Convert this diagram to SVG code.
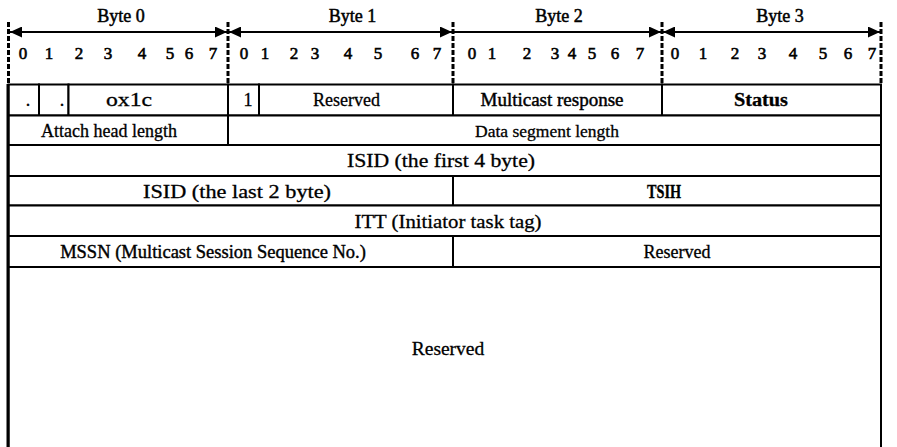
<svg xmlns="http://www.w3.org/2000/svg" width="897" height="447" viewBox="0 0 897 447">
<style>
text{font-family:"Liberation Serif","Times New Roman",serif;fill:#000;stroke:#000;stroke-width:0.3;text-anchor:middle}
.b{font-size:18px;stroke-width:0.5}
.d{font-size:17px;stroke-width:0.6}
.r1{font-size:18px}
.t{font-size:18px}
.w{font-size:19px}
.c{fill:#fff;stroke:#000;stroke-width:2}
.dash{stroke:#000;stroke-width:3;stroke-dasharray:5 2;fill:none}
.arr{stroke:#000;stroke-width:2;fill:none}
</style>
<defs>
<marker id="ah" viewBox="0 0 12 11" refX="12" refY="5.5" markerWidth="12" markerHeight="11" markerUnits="userSpaceOnUse" orient="auto-start-reverse">
<path d="M0,0 L12,5.5 L0,11 Z" fill="#000"/>
</marker>
</defs>
<rect width="897" height="447" fill="#fff"/>
<g id="header">
<g id="byte-labels">
<text class="b" x="121" y="22">Byte 0</text>
<text class="b" x="352.5" y="22">Byte 1</text>
<text class="b" x="559" y="22">Byte 2</text>
<text class="b" x="780" y="22">Byte 3</text>
</g>
<g id="bit-numbers">
<text class="d" x="23" y="59">0</text><text class="d" x="49" y="59">1</text><text class="d" x="79" y="59">2</text><text class="d" x="108" y="59">3</text><text class="d" x="142" y="59">4</text><text class="d" x="170" y="59">5</text><text class="d" x="189" y="59">6</text><text class="d" x="213" y="59">7</text>
<text class="d" x="244" y="59">0</text><text class="d" x="265" y="59">1</text><text class="d" x="294" y="59">2</text><text class="d" x="315" y="59">3</text><text class="d" x="348" y="59">4</text><text class="d" x="378" y="59">5</text><text class="d" x="415" y="59">6</text><text class="d" x="437" y="59">7</text>
<text class="d" x="472" y="59">0</text><text class="d" x="492" y="59">1</text><text class="d" x="527" y="59">2</text><text class="d" x="555" y="59">3</text><text class="d" x="572" y="59">4</text><text class="d" x="592" y="59">5</text><text class="d" x="615" y="59">6</text><text class="d" x="640" y="59">7</text>
<text class="d" x="675" y="59">0</text><text class="d" x="703" y="59">1</text><text class="d" x="735" y="59">2</text><text class="d" x="762" y="59">3</text><text class="d" x="793" y="59">4</text><text class="d" x="823" y="59">5</text><text class="d" x="848" y="59">6</text><text class="d" x="872" y="59">7</text>
</g>
</g>
<g id="connectors">
<line class="dash" x1="8.5" y1="22" x2="8.5" y2="85"/>
<line class="dash" x1="228" y1="22" x2="228" y2="85"/>
<line class="dash" x1="453" y1="22" x2="453" y2="85"/>
<line class="dash" x1="662" y1="22" x2="662" y2="85"/>
<line class="dash" x1="881" y1="22" x2="881" y2="85"/>
<line class="arr" x1="10" y1="32" x2="227" y2="32" marker-start="url(#ah)" marker-end="url(#ah)"/>
<line class="arr" x1="229" y1="32" x2="452" y2="32" marker-start="url(#ah)" marker-end="url(#ah)"/>
<line class="arr" x1="454" y1="32" x2="661" y2="32" marker-end="url(#ah)"/>
<line class="arr" x1="663" y1="32" x2="880" y2="32" marker-start="url(#ah)" marker-end="url(#ah)"/>
</g>
<g id="f-bit0"><rect class="c" x="8.5" y="84.5" width="30.5" height="31"/><text class="r1" x="28" y="106">.</text></g>
<g id="f-bit1"><rect class="c" x="39" y="84.5" width="29.5" height="31"/><text class="r1" x="62" y="106">.</text></g>
<g id="f-opcode"><rect class="c" x="68.5" y="84.5" width="159.5" height="31"/><text class="r1" x="129" y="106" style="font-size:19px" textLength="46" lengthAdjust="spacingAndGlyphs">ox1c</text></g>
<g id="f-flag"><rect class="c" x="228" y="84.5" width="31" height="31"/><text class="r1" x="248" y="106">1</text></g>
<g id="f-reserved1"><rect class="c" x="259" y="84.5" width="194" height="31"/><text class="r1" x="346.5" y="106">Reserved</text></g>
<g id="f-multicast-response"><rect class="c" x="453" y="84.5" width="209" height="31"/><text class="r1" x="552" y="106" style="font-size:19px;stroke-width:0.45">Multicast response</text></g>
<g id="f-status"><rect class="c" x="662" y="84.5" width="219" height="31"/><text class="r1" x="761" y="106" font-weight="bold" textLength="54" lengthAdjust="spacingAndGlyphs">Status</text></g>
<g id="f-ahs-length"><rect class="c" x="8.5" y="115.5" width="219.5" height="29.5"/><text class="t" x="109" y="136.5">Attach head length</text></g>
<g id="f-data-length"><rect class="c" x="228" y="115.5" width="653" height="29.5"/><text class="t" x="547" y="136.5" style="font-size:17.5px">Data segment length</text></g>
<g id="f-isid-first"><rect class="c" x="8.5" y="145" width="872.5" height="31"/><text class="w" x="441" y="167" textLength="188" lengthAdjust="spacingAndGlyphs">ISID (the first 4 byte)</text></g>
<g id="f-isid-last"><rect class="c" x="8.5" y="176" width="444.5" height="29.5"/><text class="w" x="237" y="197.5" textLength="188" lengthAdjust="spacingAndGlyphs">ISID (the last 2 byte)</text></g>
<g id="f-tsih"><rect class="c" x="453" y="176" width="428" height="29.5"/><text class="t" x="664" y="197.5" font-weight="bold" textLength="34" lengthAdjust="spacingAndGlyphs">TSIH</text></g>
<g id="f-itt"><rect class="c" x="8.5" y="205.5" width="872.5" height="30.5"/><text class="w" x="448" y="227.5" textLength="187" lengthAdjust="spacingAndGlyphs">ITT (Initiator task tag)</text></g>
<g id="f-mssn"><rect class="c" x="8.5" y="236" width="444.5" height="31"/><text class="t" x="213" y="257.5" style="font-size:18.5px;stroke-width:0.4">MSSN (Multicast Session Sequence No.)</text></g>
<g id="f-reserved2"><rect class="c" x="453" y="236" width="428" height="31"/><text class="t" x="677" y="257.5">Reserved</text></g>
<g id="f-reserved3"><rect class="c" x="8.5" y="267" width="872.5" height="185"/><text class="t" x="448" y="355" style="font-size:19.5px">Reserved</text></g>
<line x1="8" y1="84" x2="8" y2="447" stroke="#000" stroke-width="3"/>
</svg>
